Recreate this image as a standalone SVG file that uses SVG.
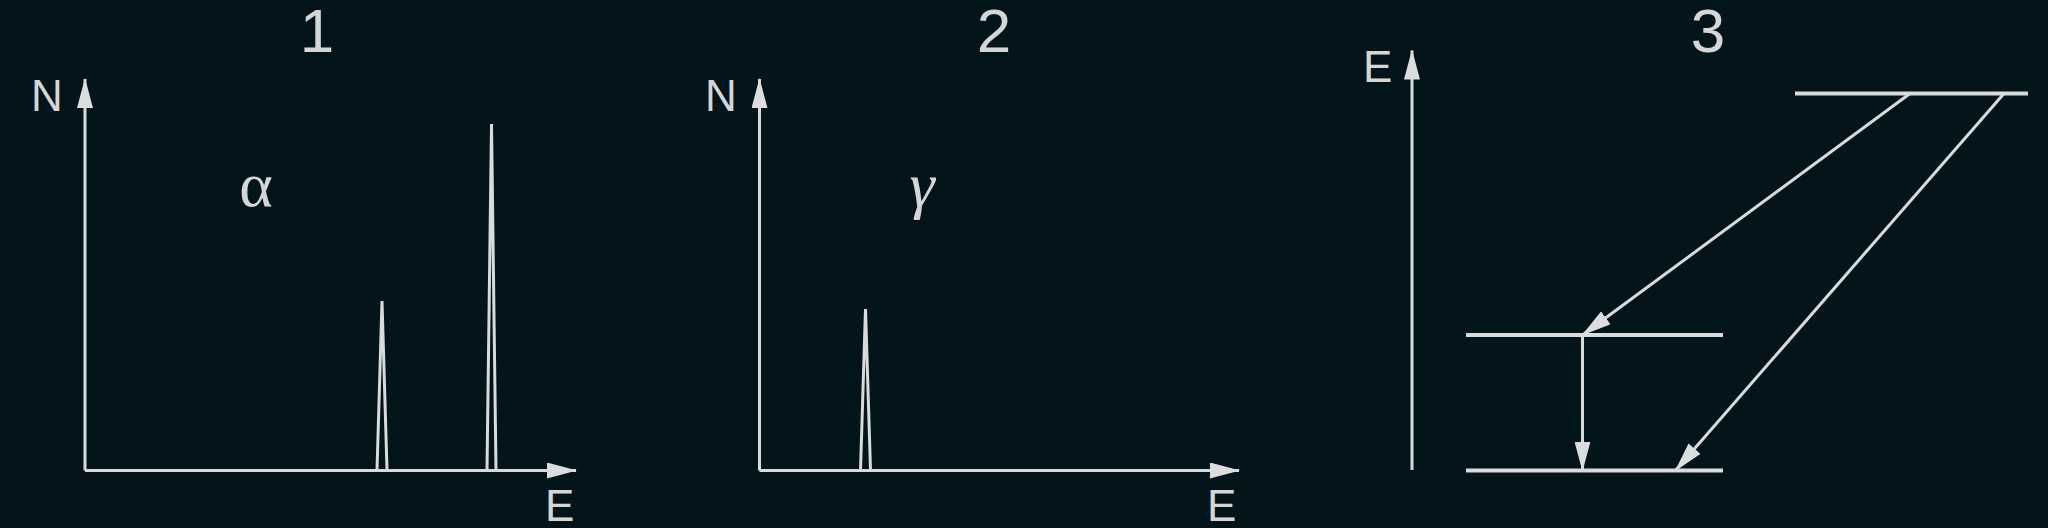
<svg xmlns="http://www.w3.org/2000/svg" width="2048" height="528" viewBox="0 0 2048 528">
<defs>
<style>
.ln{stroke:#d9dadb;stroke-width:3;fill:none;stroke-linejoin:miter}
.lv{stroke:#d9dadb;stroke-width:4;fill:none}
.lbl{font-family:"Liberation Sans",Arial,sans-serif;fill:#d4d6d7;font-size:44px}
.num{font-family:"Liberation Sans",Arial,sans-serif;fill:#d4d6d7;font-size:62px;text-anchor:middle}
.grk{font-family:"Liberation Serif","Times New Roman",serif;fill:#d4d6d7;font-size:64px;text-anchor:middle}
</style>
<marker id="ah" viewBox="0 0 30 16" markerUnits="userSpaceOnUse" markerWidth="30" markerHeight="16" refX="29" refY="8" orient="auto">
<path d="M0,0 L30,8 L0,16 Z" fill="#dcdddf"/>
</marker>
</defs>
<rect width="2048" height="528" fill="#03151a"/>

<g id="panel1">
<text class="num" x="317" y="52">1</text>
<text class="lbl" x="31" y="111">N</text>
<text class="lbl" x="545" y="521">E</text>
<text class="grk" x="256" y="206">α</text>
<path id="peak1a" class="ln" d="M377,470 L382,301 L387,470"/>
<path id="peak1b" class="ln" d="M487,470 L491.5,124 L496,470"/>
</g>

<g id="panel2">
<text class="num" x="994" y="52">2</text>
<text class="lbl" x="705" y="111">N</text>
<text class="lbl" x="1207" y="521">E</text>
<text class="grk" x="922" y="206" font-style="italic">γ</text>
<path id="peak2" class="ln" d="M860.5,470 L865.5,309 L870.5,470"/>
</g>

<g id="panel3">
<text class="num" x="1708" y="52">3</text>
<text class="lbl" x="1363" y="82">E</text>
<line id="level-top" class="lv" x1="1795" y1="93.5" x2="2028" y2="93.5"/>
<line id="level-mid" class="lv" x1="1466" y1="335" x2="1723" y2="335"/>
<line id="level-bot" class="lv" x1="1466" y1="470.5" x2="1723" y2="470.5"/>
</g>

<g id="connectors">
<line class="ln" x1="85" y1="470.5" x2="85" y2="79" marker-end="url(#ah)"/>
<line class="ln" x1="85" y1="470.5" x2="576" y2="470.5" marker-end="url(#ah)"/>
<line class="ln" x1="759.5" y1="470.5" x2="759.5" y2="79" marker-end="url(#ah)"/>
<line class="ln" x1="759.5" y1="470.5" x2="1239" y2="470.5" marker-end="url(#ah)"/>
<line class="ln" x1="1412" y1="470" x2="1412" y2="50.5" marker-end="url(#ah)"/>
<line class="ln" x1="1910" y1="93.5" x2="1582.5" y2="335" marker-end="url(#ah)"/>
<line class="ln" x1="2004" y1="93.5" x2="1675.5" y2="470.5" marker-end="url(#ah)"/>
<line class="ln" x1="1582.5" y1="335" x2="1582.5" y2="470.5" marker-end="url(#ah)"/>
</g>
</svg>
